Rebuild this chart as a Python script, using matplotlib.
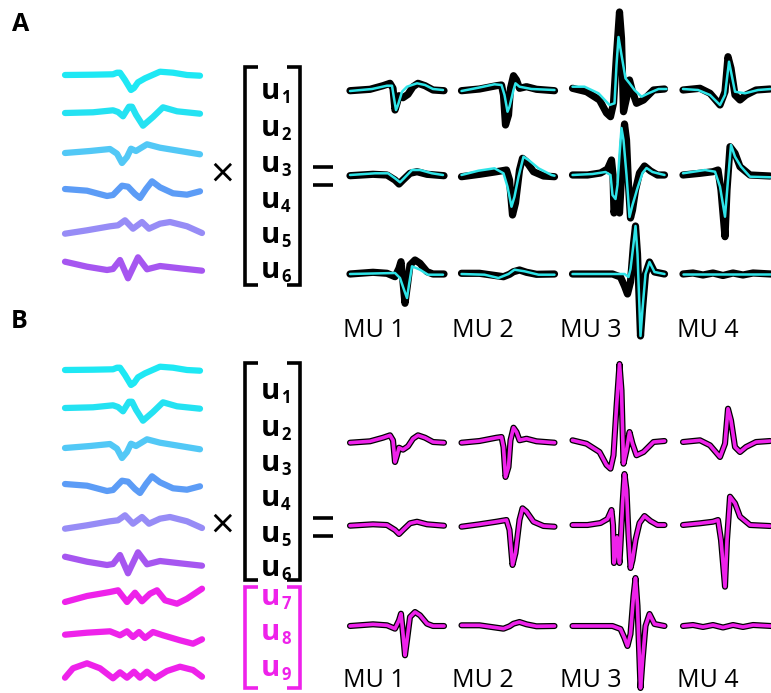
import matplotlib
matplotlib.use('Agg')

import matplotlib.pyplot as plt

plt.rcParams['font.family'] = ['Open Sans', 'DejaVu Sans']

W, H = 771, 693

# ---- left-hand basis waveforms: (x px from row start, y px up from baseline)
BASIS_1 = [(0, 0), (28, 0.3), (48, 0.7), (52, 2.3), (55, 2.3), (60, -5), (66, -15), (69, -13),
           (73, -7.3), (80, -3.3), (95, 3.3), (108, 2.3), (122, 0), (135, -0.7)]
BASIS_2 = [(0, 0), (28, 0.7), (48, 2.7), (53, 1), (58, -3.3), (64, 6.3), (67, 6.3), (71, -1.7),
           (78, -12.7), (88, -4), (98, 5.7), (112, 1.7), (135, -0.7)]
BASIS_3 = [(0, -1), (25, 1), (45, 3), (52, -1.7), (57, -11), (62, -5), (66, 3.3), (71, 1),
           (82, 7.7), (95, 4.3), (115, 1), (135, -2.3)]
BASIS_4 = [(0, 0), (22, -1.7), (42, -7), (48, -6), (57, 3.3), (63, 2.3), (70, -5), (75, -9),
           (81, 0), (87, 7.7), (95, 1.7), (108, -4.3), (122, -5.7), (135, -2.3)]
BASIS_5 = [(0, -6.7), (22, -3.3), (45, 0.7), (53, 1.7), (60, 6.7), (68, -1.7), (77, 5),
           (84, -1.7), (95, 3.3), (105, 5), (122, 0.7), (137, -6)]
BASIS_6 = [(0, 8.3), (22, 3.3), (42, 0), (48, 1), (55, 10), (63, -8.3), (73, 12.7), (82, 0.7),
           (95, 4), (115, 1.7), (137, -0.7)]
BASIS_7 = [(0, -5), (22, 1), (45, 5), (53, 6.7), (62, -5), (70, 4.3), (77, -4.3), (85, 3.3),
           (92, 6.7), (100, -3.3), (112, -6.7), (122, -1.7), (137, 8.3)]
BASIS_8 = [(0, 2.3), (22, 4.3), (45, 5.7), (55, 1.7), (62, 5.7), (68, 0), (74, 5), (80, -1),
           (88, 5), (98, 1.7), (115, -3.3), (128, -6.7), (137, -2.3)]
BASIS_9 = [(0, -2.7), (8, 6.7), (22, 11.7), (35, 6.7), (48, -3.3), (55, 2.7), (62, -2.7),
           (69, 3.3), (75, -2.7), (82, 3.3), (90, -3.3), (102, 4), (115, 8.3), (128, 5),
           (137, -1.7)]

BASIS_COLORS = ['#1EE8F4', '#24E2F2', '#52C8F6', '#5C9CF6', '#978CF6', '#A656F0',
                '#EE22EA', '#EE22EA', '#EE22EA']

# ---- recorded MU waveforms (black) per electrode row, MU 1..4
DATA_ROW1 = [
    [(0, -0.7), (20, 0.7), (33, 4.3), (40, 6.7), (43, 1.7), (45, -20), (47, -13.3), (49, -5.7),
     (53, -7.7), (58, -4.3), (63, 3.3), (68, 6.7), (75, 4.3), (83, 0), (94, -0.7)],
    [(0, -0.7), (18, 1), (35, 4.3), (40, 5), (42, -5), (44, -35), (47, -25), (49, 1.7),
     (52, 14.3), (55, 10), (58, 1.7), (65, 3.3), (75, 0.7), (93, -0.7)],
    [(0, 1.7), (14, -1.7), (27, -10), (34, -23), (38, -26.7), (41, -13.3), (44, 35), (47, 78),
     (49, 51.7), (51, -21.7), (54, -8.3), (57, 10), (60, -1.7), (64, -13.3), (71, -10),
     (81, 0), (92, 1)],
    [(0, 0), (17, 1.7), (27, -3.3), (37, -15), (42, -1.7), (45, 33.3), (48, 21.7), (52, -5),
     (57, -10), (63, -5), (73, 0), (87, 1)],
]
DATA_ROW2 = [
    [(0, -0.7), (23, 0.7), (37, 0), (45, -5), (49, -9), (53, -5), (60, 1.7), (67, 3.3),
     (77, 0.7), (94, -0.7)],
    [(0, -1.7), (18, 0.7), (35, 3.3), (45, 5), (48, -5), (51, -40), (54, -28), (58, 5),
     (61, 16.7), (65, 13.3), (72, 3.3), (82, -1), (93, -1.7)],
    [(0, 0), (15, 0), (28, 2), (35, 6), (39, 15), (40.5, 0), (41.5, -38), (43, -30),
     (44.5, -12), (46, -30), (47, -38), (48, -20), (50, 20), (52, 51), (54, 35), (56, -10),
     (58, -43), (60, -35), (63, -15), (67, 2), (72, 9), (78, 4), (85, 0), (92, 0)],
    [(0, 0), (17, 1.7), (30, 3.3), (35, 5), (38, -15), (42, -61.7), (44, -15), (47, 28.3),
     (52, 21.7), (57, 8.3), (67, 0), (87, -1)],
]
DATA_ROW3 = [
    [(0, 0), (23, 1.7), (37, 0.7), (45, -2.7), (49, 5.7), (51, 12.3), (53, -7.7), (55, -29.3),
     (57, -14.3), (60, 9), (65, 14), (70, 10.7), (77, 2.3), (83, 0), (94, 0)],
    [(0, 0.7), (18, 0.7), (35, -1.7), (42, -2.7), (48, -0.3), (52, 2.3), (58, 4), (65, 1.7),
     (75, -0.3), (93, 0)],
    [(0, 0), (20, 0), (40, 0), (48, -3), (52, -12), (55, -20), (58, -8), (61, 30), (63, 48),
     (65, 20), (68, -62), (70, -35), (73, 0), (77, 12), (82, 2), (92, 0)],
    [(0, 0), (10, 1), (20, -1), (30, 1), (40, -1.5), (50, 1), (60, -1), (70, 1), (88, 0)],
]

# ---- reconstruction with 6 bases (cyan), panel A
FIT6_ROW1 = [
    [(0, -1), (22, 1), (37, 4.3), (42, 4.3), (44, -8.3), (46, -20), (48, -15), (52, -1.7),
     (57, 3.3), (67, 6.7), (75, 5), (83, 1), (93, 0)],
    [(0, -1), (17, 2.3), (33, 5.7), (40, 5), (43, -5), (46, -21.7), (48, -16.7), (52, 0),
     (54, 6.7), (58, 3.3), (70, 1), (93, 0)],
    [(0, 3.3), (12, 3.3), (26, -3.3), (37, -15), (42, -13.3), (44, 25), (46, 53), (49, 35),
     (53, 11.7), (57, 6.7), (62, 0), (69, -6.7), (76, -3.3), (86, 1), (94, 1)],
    [(0, 1), (15, 0), (27, -5), (37, -15), (42, -5), (46, 28.3), (48, 18.3), (52, -1.7),
     (62, -3.3), (75, 0), (88, 1)],
]
FIT6_ROW2 = [
    [(0, 0), (25, 1.7), (38, 1.7), (45, -3.3), (50, -7.3), (54, -3.3), (62, 5), (70, 5),
     (82, 1.7), (93, 0)],
    [(0, 0), (17, 4.3), (33, 6.7), (42, 1.7), (46, -11.7), (50, -31.7), (53, -21.7),
     (57, -1.7), (62, 18.3), (67, 15), (77, 6.7), (90, 0), (93, -0.7)],
    [(0, 0), (20, 1), (33, 3), (38, 0), (40, -20), (43, -24), (45, -10), (47, 20), (49, 47),
     (51, 35), (54, 0), (57, -42), (60, -30), (65, -13), (70, 2), (74, 7), (80, 3), (92, 0)],
    [(0, 1.7), (22, 5), (32, 3.3), (37, -11.7), (42, -41.7), (45, -5), (48, 30), (52, 18.3),
     (58, 8.3), (67, -1.7), (88, -2.3)],
]
FIT6_ROW3 = [
    [(0, 0), (45, 1), (50, -4), (54, -15.7), (57, -24), (59, -10.7), (62, 7.7), (70, 4.3),
     (78, -0.7), (93, -0.7)],
    [(0, 0), (23, -0.7), (37, -4), (47, 0), (53, 4.3), (63, 2.7), (77, -0.7), (93, -0.7)],
    [(0, 0), (20, 0), (40, 0), (52, 0), (56, -3), (58, 5), (61, 30), (63, 48), (65, 20),
     (68, -62), (70, -35), (73, 0), (77, 12), (82, 2), (92, 0)],
    [(0, 0), (88, 0)],
]

# reconstruction with 9 bases (magenta), panel B: follows the data
FIT9_ROW1, FIT9_ROW2, FIT9_ROW3 = DATA_ROW1, DATA_ROW2, DATA_ROW3

MU_LABELS = ['MU 1', 'MU 2', 'MU 3', 'MU 4']
U_LABELS = ['1', '2', '3', '4', '5', '6', '7', '8', '9']

CYAN = '#2FE4E8'
MAGENTA = '#EE22EA'

# ---- layout (pixels)
BASIS_X0 = 65
BASIS_Y_A = [75, 113, 152, 189, 227, 270]
BASIS_Y_B = [370, 408, 447, 484, 522, 565, 597, 637, 675]
MU_X0 = [350, 461.5, 572.5, 683]
MU_LABEL_X = [343, 452, 560, 677]
MU_Y_A = [90, 175, 274]
MU_Y_B = [442, 525, 626]
U_Y_A = [99, 135.5, 171.5, 207.5, 243, 278]
U_Y_B = [399, 435.5, 471, 506.5, 541.5, 576.5, 605, 640, 676]


def draw_trace(ax, pts, x0, y0, color, lw, z=2):
    xs = [x0 + p[0] for p in pts]
    ys = [y0 - p[1] for p in pts]
    ax.plot(xs, ys, color=color, lw=lw, solid_capstyle='round',
            solid_joinstyle='round', zorder=z)


def draw_bracket(ax, y_top, y_bot, color):
    ax.plot([258, 245, 245, 258], [y_top, y_top, y_bot, y_bot], color=color, lw=2.6,
            solid_joinstyle='miter', solid_capstyle='butt')
    ax.plot([287, 300, 300, 287], [y_top, y_top, y_bot, y_bot], color=color, lw=2.6,
            solid_joinstyle='miter', solid_capstyle='butt')


def draw_vector(ax, ys, colors):
    for lab, y, c in zip(U_LABELS, ys, colors):
        ax.text(270.5, y, 'u', fontsize=21, fontweight='bold', color=c,
                ha='center', va='baseline')
        ax.text(281, y + 4, lab, fontsize=12, fontweight='bold', color=c,
                ha='left', va='baseline')


def draw_ops(ax, yc):
    ax.text(222, yc, '\u00d7', fontsize=30, color='black', ha='center', va='center')
    ax.plot([313, 333], [yc - 9, yc - 9], color='black', lw=2.6, solid_capstyle='butt')
    ax.plot([313, 333], [yc + 9, yc + 9], color='black', lw=2.6, solid_capstyle='butt')


def draw_mu_grid(ax, data_rows, fit_rows, rows_y, fit_color, black_lw, fit_lw, label_y):
    for drow, frow, y0 in zip(data_rows, fit_rows, rows_y):
        for dpts, fpts, x0 in zip(drow, frow, MU_X0):
            draw_trace(ax, dpts, x0, y0, 'black', black_lw, z=2)
            draw_trace(ax, fpts, x0, y0, fit_color, fit_lw, z=3)
    for lab, x in zip(MU_LABELS, MU_LABEL_X):
        ax.text(x, label_y, lab, fontsize=18, color='black', ha='left',
                va='baseline', zorder=1)


fig = plt.figure(figsize=(W / 100, H / 100), dpi=100)
ax = fig.add_axes([0, 0, 1, 1])
ax.set_xlim(0, W)
ax.set_ylim(H, 0)
ax.axis('off')

bases = [BASIS_1, BASIS_2, BASIS_3, BASIS_4, BASIS_5, BASIS_6, BASIS_7, BASIS_8, BASIS_9]

# Panel A
ax.text(12, 31, 'A', fontsize=18, fontweight='bold', ha='left', va='baseline')
for pts, y0, c in zip(bases[:6], BASIS_Y_A, BASIS_COLORS[:6]):
    draw_trace(ax, pts, BASIS_X0, y0, c, 4.5)
draw_ops(ax, 176)
draw_bracket(ax, 67, 285, 'black')
draw_vector(ax, U_Y_A, ['black'] * 6)
draw_mu_grid(ax, [DATA_ROW1, DATA_ROW2, DATA_ROW3], [FIT6_ROW1, FIT6_ROW2, FIT6_ROW3],
             MU_Y_A, CYAN, 5.2, 1.8, 337)

# Panel B
ax.text(11, 328, 'B', fontsize=18, fontweight='bold', ha='left', va='baseline')
for pts, y0, c in zip(bases, BASIS_Y_B, BASIS_COLORS):
    draw_trace(ax, pts, BASIS_X0, y0, c, 4.5)
draw_ops(ax, 527)
draw_bracket(ax, 363, 580, 'black')
draw_bracket(ax, 587, 688, MAGENTA)
draw_vector(ax, U_Y_B, ['black'] * 6 + [MAGENTA] * 3)
draw_mu_grid(ax, [DATA_ROW1, DATA_ROW2, DATA_ROW3], [FIT9_ROW1, FIT9_ROW2, FIT9_ROW3],
             MU_Y_B, MAGENTA, 4.4, 2.6, 687)

fig.savefig('out.png', dpi=100, facecolor='white')
plt.close(fig)
